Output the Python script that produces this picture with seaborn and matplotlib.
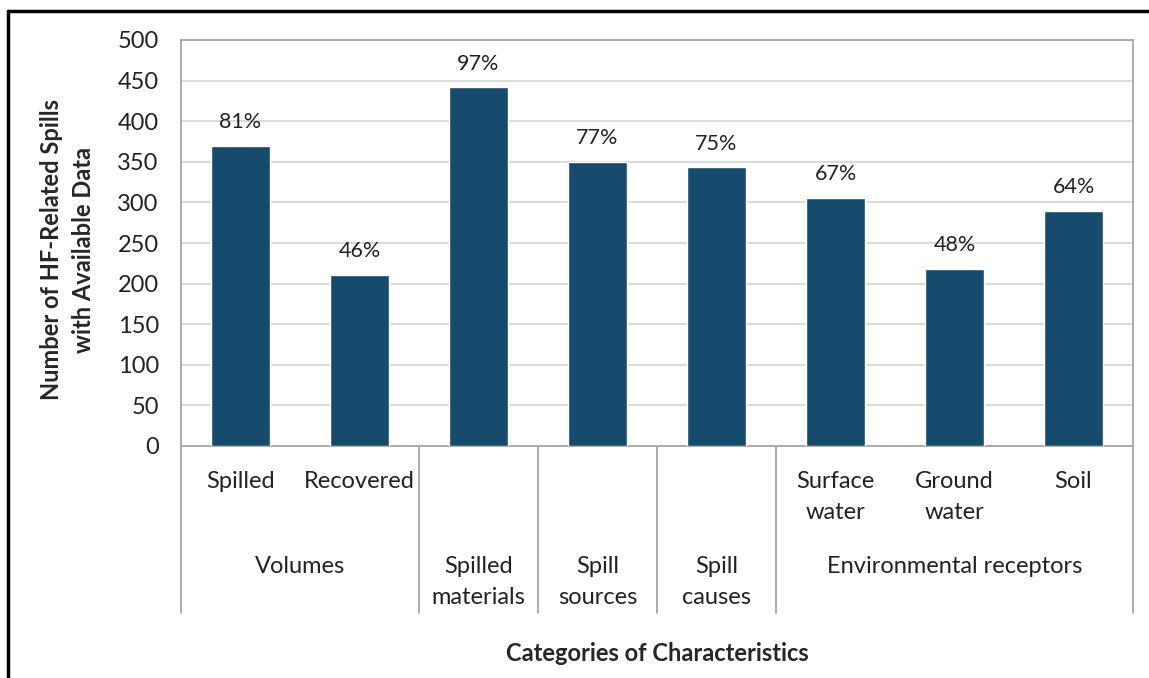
import numpy as np
import pandas as pd
import seaborn as sns
import matplotlib.pyplot as plt
from matplotlib.lines import Line2D
import matplotlib.transforms as mtransforms

# data
sub_labels = ['Spilled', 'Recovered', '', '', '', 'Surface\nwater', 'Ground\nwater', 'Soil']
group_labels = ['Volumes', 'Spilled\nmaterials', 'Spill\nsources', 'Spill\ncauses', 'Environmental receptors']
group_sizes = [2, 1, 1, 1, 3]
spill_counts = [370, 211, 442, 350, 343, 306, 218, 290]
pct_labels = ['81%', '46%', '97%', '77%', '75%', '67%', '48%', '64%']

df = pd.DataFrame({'pos': np.arange(len(spill_counts)), 'count': spill_counts})

sns.set_style('white')
plt.rcParams['font.family'] = ['Lato', 'DejaVu Sans']

fig = plt.figure(figsize=(11.49, 6.78), dpi=100)
ax = fig.add_axes([181 / 1149, 1 - 446 / 678, (1133 - 181) / 1149, (446 - 40) / 678])

sns.barplot(data=df, x='pos', y='count', color='#174b6e', width=0.5,
            saturation=1, ax=ax, zorder=3)

ax.set_ylim(0, 500)
ax.set_yticks(np.arange(0, 501, 50))
ax.yaxis.grid(True, color='#d4d4d4', linewidth=1.2, zorder=0)
ax.tick_params(axis='y', labelsize=17, length=0, pad=16, labelcolor='#222222')
for s in ax.spines.values():
    s.set_color('#a6a6a6')
    s.set_linewidth(1.3)

# percent labels above bars
for i, (v, p) in enumerate(zip(spill_counts, pct_labels)):
    ax.text(i, v + 29, p, ha='center', va='center', fontsize=15.5, color='#222222')

# multi-level category axis
ax.set_xticks([])
ax.set_xlabel('')
ax.set_ylabel('')
trans = mtransforms.blended_transform_factory(ax.transData, ax.transAxes)
for i, lab in enumerate(sub_labels):
    if lab:
        ax.text(i, -0.061, lab, transform=trans, ha='center', va='top',
                fontsize=17, linespacing=1.6, color='#222222')

start = 0
edges = [-0.5]
for lab, n in zip(group_labels, group_sizes):
    center = start + (n - 1) / 2
    ax.text(center, -0.271, lab, transform=trans, ha='center', va='top',
            fontsize=17, linespacing=1.6, color='#222222')
    start += n
    edges.append(start - 0.5)

for e in edges:
    ax.plot([e, e], [0, -0.411], transform=trans, color='#a6a6a6',
            linewidth=1.3, clip_on=False)

ax.set_xlim(-0.5, len(spill_counts) - 0.5)

ax.text(0.5, -0.51, 'Categories of Characteristics', transform=ax.transAxes,
        ha='center', va='center', fontsize=17, fontweight='bold')
ax.text(-0.119, 0.483, 'Number of HF-Related Spills\nwith Available Data',
        transform=ax.transAxes, ha='center', va='center', rotation=90,
        fontsize=17, fontweight='bold', linespacing=1.5)

# outer frame
fig.add_artist(Line2D([8 / 1149, 8 / 1149], [0, 1 - 11 / 678], transform=fig.transFigure,
                      color='black', linewidth=2.5))
fig.add_artist(Line2D([8 / 1149, 1], [1 - 11 / 678, 1 - 11 / 678], transform=fig.transFigure,
                      color='black', linewidth=2.5))

fig.savefig('out.png', dpi=100)
